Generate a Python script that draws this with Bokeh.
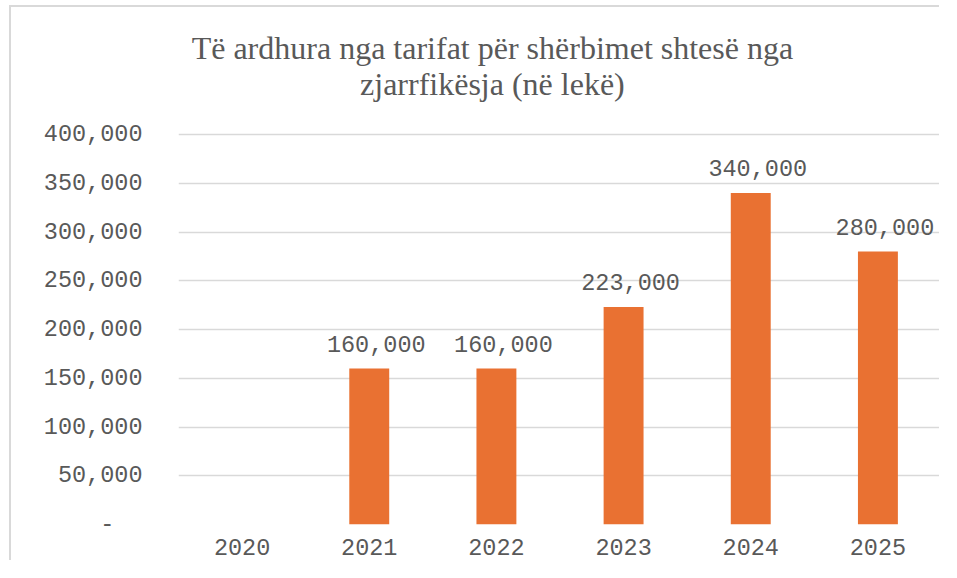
from bokeh.plotting import figure
from bokeh.models import ColumnDataSource, LabelSet, Label, NumeralTickFormatter, FixedTicker, Range1d
from bokeh.core.properties import value
from bokeh.embed import file_html
from bokeh.resources import INLINE

# ---- data ----
years = ["2020", "2021", "2022", "2023", "2024", "2025"]
revenue = [0, 160000, 160000, 223000, 340000, 280000]
y_ticks = [0, 50000, 100000, 150000, 200000, 250000, 300000, 350000, 400000]
title_lines = ["Të ardhura nga tarifat për shërbimet shtesë nga",
               "zjarrfikësja (në lekë)"]

TXT = "#595959"
MONO = "Liberation Mono"
MONO_SIZE = "23.5px"

# layout (pixels): plotting frame spans the full height above the x axis;
# the value axis tops out at 400,000, 390px above the baseline
FRAME_H = 517
AXIS_PX = 390
y_top = max(y_ticks) * FRAME_H / AXIS_PX
px = max(y_ticks) / AXIS_PX  # data units per pixel

labels = [f"{v:,}" if v > 0 else "" for v in revenue]
src = ColumnDataSource(dict(year=years, revenue=revenue, label=labels))

p = figure(x_range=years, y_range=Range1d(0, y_top), width=930, height=555,
           output_backend="svg", toolbar_location=None,
           min_border_left=167, min_border_right=0,
           min_border_top=0, min_border_bottom=38)
p.styles = {"margin-left": "9px", "margin-top": "5px",
            "border-left": "2px solid #d9d9d9", "border-top": "2px solid #d9d9d9"}

p.vbar(x="year", top="revenue", width=0.314, source=src,
       fill_color="#E97132", line_color=None)

p.add_layout(LabelSet(x="year", y="revenue", text="label", source=src,
                      text_align="center", text_baseline="alphabetic",
                      x_offset=7, y_offset=17,
                      text_font=value(MONO), text_font_size=value(MONO_SIZE),
                      text_color=TXT))

# title: two centred lines above the plot area
for txt, off in zip(title_lines, [477, 441]):
    p.add_layout(Label(x=2.5, y=off * px, x_offset=-4, text=txt,
                       text_align="center", text_baseline="middle",
                       text_font="Liberation Serif", text_font_size="32px",
                       text_color=TXT))

p.outline_line_color = None
p.xgrid.grid_line_color = None
p.ygrid.grid_line_color = "#d9d9d9"
p.ygrid.grid_line_width = 1.5
p.ygrid.ticker = FixedTicker(ticks=y_ticks)

p.yaxis.ticker = FixedTicker(ticks=y_ticks)
p.yaxis.formatter = NumeralTickFormatter(format="0,0")
p.yaxis.major_label_overrides = {0: "-\u00a0\u00a0"}
p.yaxis.axis_line_color = None
p.yaxis.major_tick_line_color = None
p.yaxis.minor_tick_line_color = None
p.yaxis.major_label_standoff = 30

p.xaxis.axis_line_color = None
p.xaxis.major_tick_line_color = None
p.xaxis.major_label_standoff = 8

for ax in (p.xaxis, p.yaxis):
    ax.major_label_text_font = MONO
    ax.major_label_text_font_size = MONO_SIZE
    ax.major_label_text_color = TXT

p.background_fill_color = "white"
p.border_fill_color = "white"

open("out.html", "w").write(file_html(p, INLINE))
